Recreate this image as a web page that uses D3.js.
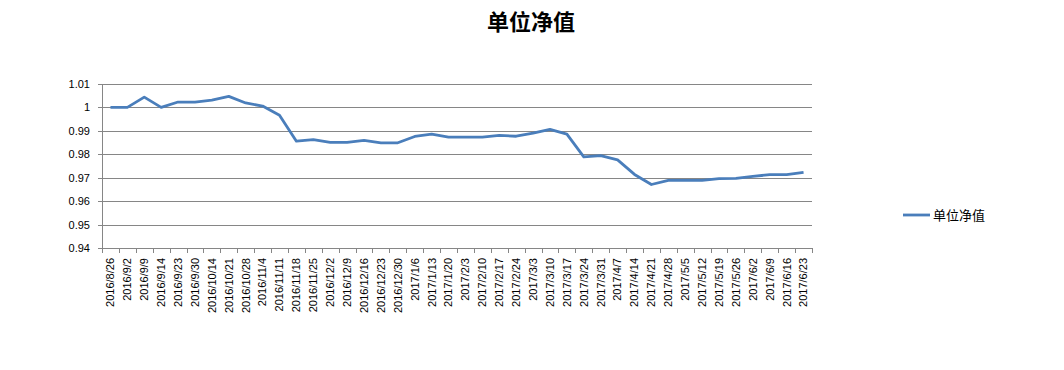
<!DOCTYPE html>
<meta charset="utf-8">
<style>
    body { margin: 0; background: #fff; }
    .axis text {
        font-family: "Liberation Sans", Arial, sans-serif;
        font-size: 11px;
        fill: #000;
    }
</style>

<div class="chart"></div>

<script src="https://cdn.jsdelivr.net/npm/d3@7"></script>

<script>
    // weekly dates
    var dates = ['2016/8/26','2016/9/2','2016/9/9','2016/9/14','2016/9/23','2016/9/30','2016/10/14',
        '2016/10/21','2016/10/28','2016/11/4','2016/11/11','2016/11/18','2016/11/25','2016/12/2',
        '2016/12/9','2016/12/16','2016/12/23','2016/12/30','2017/1/6','2017/1/13','2017/1/20',
        '2017/2/3','2017/2/10','2017/2/17','2017/2/24','2017/3/3','2017/3/10','2017/3/17',
        '2017/3/24','2017/3/31','2017/4/7','2017/4/14','2017/4/21','2017/4/28','2017/5/5',
        '2017/5/12','2017/5/19','2017/5/26','2017/6/2','2017/6/9','2017/6/16','2017/6/23'];

    var nav = [1.0000, 1.0000, 1.0044, 1.0000, 1.0023, 1.0023, 1.0031,
        1.0047, 1.0019, 1.0006, 0.9967, 0.9856, 0.9863, 0.9851,
        0.9851, 0.9859, 0.9849, 0.9849, 0.9876, 0.9886, 0.9873,
        0.9873, 0.9873, 0.9881, 0.9877, 0.9890, 0.9906, 0.9886,
        0.9789, 0.9794, 0.9776, 0.9714, 0.9671, 0.9689, 0.9689,
        0.9689, 0.9696, 0.9697, 0.9706, 0.9713, 0.9713, 0.9723];

    var yTicks = [0.94, 0.95, 0.96, 0.97, 0.98, 0.99, 1, 1.01];
    var seriesName = '单位净值';

    var W = 1064, H = 370;
    var margin = {top: 84, left: 102, right: 252, bottom: 122};
    var width = W - margin.left - margin.right,
        height = H - margin.top - margin.bottom;

    var svg = d3.select('.chart').append('svg')
        .attr('width', W)
        .attr('height', H);

    svg.append('text')
        .attr('x', 531)
        .attr('y', 30)
        .attr('text-anchor', 'middle')
        .style('font-family', '"Noto Sans CJK SC", sans-serif')
        .style('font-weight', 'bold')
        .style('font-size', '22px')
        .text(seriesName);

    var g = svg.append('g')
        .attr('transform', 'translate(' + margin.left + ',' + margin.top + ')');

    var x = d3.scaleBand().domain(dates).range([0, width]);
    var y = d3.scaleLinear().domain([0.94, 1.01]).range([height, 0]);

    // gridlines
    g.append('g')
        .selectAll('line')
        .data(yTicks)
        .enter().append('line')
        .attr('x1', -4).attr('x2', width)
        .attr('y1', function(d) { return Math.round(y(d)) + 0.5; })
        .attr('y2', function(d) { return Math.round(y(d)) + 0.5; })
        .attr('stroke', '#868686')
        .attr('shape-rendering', 'crispEdges');

    // y axis
    var yAxis = g.append('g')
        .attr('class', 'axis')
        .call(d3.axisLeft(y).tickValues(yTicks).tickSize(0).tickPadding(12)
            .tickFormat(function(d) { return d3.format('')(+d.toFixed(2)); }));
    yAxis.select('.domain').remove();
    g.append('line')
        .attr('x1', 0.5).attr('x2', 0.5)
        .attr('y1', 0).attr('y2', height + 5)
        .attr('stroke', '#868686');

    // x axis with ticks on category boundaries
    var xg = g.append('g')
        .attr('class', 'axis')
        .attr('transform', 'translate(0,' + height + ')')
        .call(d3.axisBottom(x).tickSize(0).tickPadding(4));
    xg.select('.domain').remove();
    xg.selectAll('text')
        .attr('transform', 'rotate(-90)')
        .attr('x', -10)
        .attr('y', 0)
        .attr('dy', '0.35em')
        .attr('text-anchor', 'end');

    var bounds = dates.map(function(d) { return x(d) + x.bandwidth(); });
    g.append('g').selectAll('line')
        .data(bounds)
        .enter().append('line')
        .attr('x1', function(d) { return Math.round(d) + 0.5; })
        .attr('x2', function(d) { return Math.round(d) + 0.5; })
        .attr('y1', height).attr('y2', height + 5)
        .attr('stroke', '#868686');

    // line
    var line = d3.line()
        .x(function(d, i) { return x(dates[i]) + x.bandwidth() / 2; })
        .y(function(d) { return y(d); });

    g.append('path')
        .datum(nav)
        .attr('fill', 'none')
        .attr('stroke', '#4a7ebb')
        .attr('stroke-width', 2.8)
        .attr('stroke-linejoin', 'round')
        .attr('d', line);

    // legend
    var lg = svg.append('g').attr('transform', 'translate(903,215)');
    lg.append('line')
        .attr('x1', 0).attr('x2', 27)
        .attr('stroke', '#4a7ebb')
        .attr('stroke-width', 2.8);
    lg.append('text')
        .attr('x', 30)
        .attr('y', 4.5)
        .style('font-family', '"Noto Sans CJK SC", sans-serif')
        .style('font-size', '13px')
        .text(seriesName);
</script>
